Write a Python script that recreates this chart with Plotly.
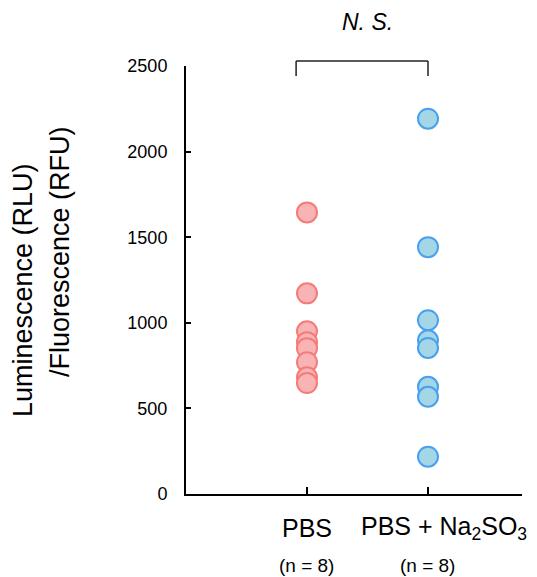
import plotly.graph_objects as go

# ---- data ----
categories = ["PBS", "PBS + Na<sub>2</sub>SO<sub>3</sub>"]
n_labels = ["(n = 8)", "(n = 8)"]
pbs_values = [1645, 1172, 950, 887, 852, 770, 682, 648]
na2so3_values = [2192, 1442, 1015, 898, 853, 626, 568, 218]
y_ticks = [0, 500, 1000, 1500, 2000, 2500]
sig_label = "N. S."
y_title_lines = ["Luminescence (RLU)", "/Fluorescence (RFU)"]

FONT = "Liberation Sans, Arial, Helvetica, sans-serif"
OFF = 8  # page body margin
W, H = 537 - OFF, 577 - OFF
L = 186 - OFF
T = 66 - OFF
R = W - (522 - OFF)
B = H - (494 - OFF)
ph = H - T - B
pw = W - L - R

def py(px):  # reference pixel y -> paper y
    return ((494 - OFF) - (px - OFF)) / ph

def pxp(px):  # reference pixel x -> paper x
    return ((px - OFF) - L) / pw

fig = go.Figure()
fig.add_trace(go.Scatter(
    x=[categories[0]] * len(pbs_values), y=pbs_values, mode="markers",
    marker=dict(size=20, color="rgb(248,180,180)",
                line=dict(color="rgb(246,122,122)", width=2)),
    showlegend=False, hoverinfo="y"))
fig.add_trace(go.Scatter(
    x=[categories[1]] * len(na2so3_values), y=na2so3_values, mode="markers",
    marker=dict(size=20, color="rgb(164,214,230)",
                line=dict(color="rgb(72,160,240)", width=2)),
    showlegend=False, hoverinfo="y"))

fig.update_layout(
    width=W, height=H,
    margin=dict(l=L, r=R, t=T, b=B),
    plot_bgcolor="white", paper_bgcolor="white",
    font=dict(family=FONT, color="black"),
    xaxis=dict(type="category", categoryorder="array", categoryarray=categories,
               range=[-1.0, 1.777], showgrid=False, zeroline=False,
               showline=True, linecolor="black", linewidth=2,
               ticks="inside", ticklen=7, tickwidth=2, tickcolor="black",
               showticklabels=False),
    yaxis=dict(range=[0, 2500], tickvals=y_ticks, showgrid=False, zeroline=False,
               showline=True, linecolor="black", linewidth=2,
               ticks="inside", ticklen=5, tickwidth=1.5, tickcolor="black",
               tickfont=dict(size=18, family=FONT, color="black"),
               ticklabelstandoff=13),
)

# significance bracket
y_top, y_bot = py(61), py(76)
bx0, bx1 = -0.09, 1.0
line_style = dict(color="#222", width=1.5)
fig.add_shape(type="line", xref="x", yref="paper", x0=bx0, x1=bx1, y0=y_top, y1=y_top, line=line_style)
fig.add_shape(type="line", xref="x", yref="paper", x0=bx0, x1=bx0, y0=y_top, y1=y_bot, line=line_style)
fig.add_shape(type="line", xref="x", yref="paper", x0=bx1, x1=bx1, y0=y_top, y1=y_bot, line=line_style)
fig.add_annotation(text=f"<i>{sig_label}</i>", xref="x", yref="paper", x=0.5, y=py(22),
                   showarrow=False, font=dict(size=23, family=FONT, color="black"),
                   xanchor="center", yanchor="middle")

# category labels
label_shift = [0, 16]
for i, (c, n) in enumerate(zip(categories, n_labels)):
    fig.add_annotation(text=c, xref="x", yref="paper", x=i, y=py(528), showarrow=False,
                       xshift=label_shift[i],
                       font=dict(size=25, family=FONT, color="black"),
                       xanchor="center", yanchor="middle")
    fig.add_annotation(text=n, xref="x", yref="paper", x=i, y=py(565), showarrow=False,
                       font=dict(size=19, family=FONT, color="black"),
                       xanchor="center", yanchor="middle")

# y-axis title (two offset lines)
fig.add_annotation(text=y_title_lines[0], xref="paper", yref="paper", x=pxp(23), y=py(290),
                   textangle=-90, showarrow=False, font=dict(size=27, family=FONT, color="black"),
                   xanchor="center", yanchor="middle")
fig.add_annotation(text=y_title_lines[1], xref="paper", yref="paper", x=pxp(60), y=py(252),
                   textangle=-90, showarrow=False, font=dict(size=27, family=FONT, color="black"),
                   xanchor="center", yanchor="middle")

fig.write_html("out.html")
